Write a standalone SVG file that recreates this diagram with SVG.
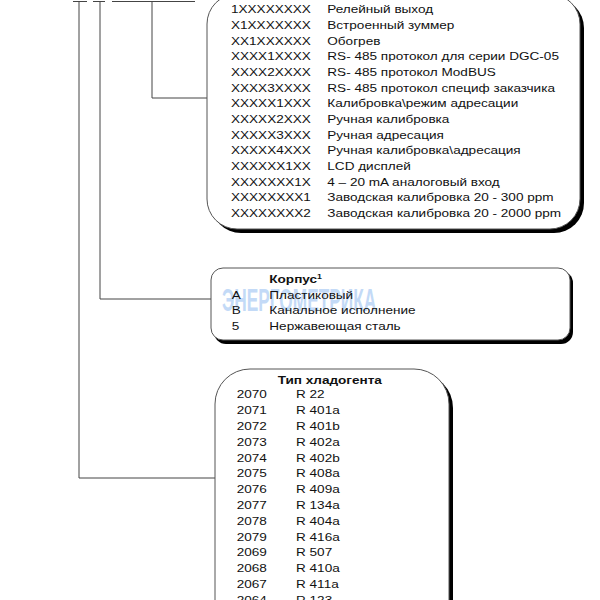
<svg xmlns="http://www.w3.org/2000/svg" width="600" height="600" viewBox="0 0 600 600">
<style>
.t{font-family:"Liberation Sans",Arial,sans-serif;font-size:11.6px;fill:#111}
.b{font-weight:bold}
.box{fill:#fff;stroke:#555;stroke-width:1}
.sh{fill:#000}
.ln{fill:none;stroke:#444;stroke-width:1}
.wm{font-family:"Liberation Sans",Arial,sans-serif;font-weight:bold;font-size:32px;fill:#9cc2f2;opacity:0.6}
</style>
<rect width="600" height="600" fill="#fff"/>
<g id="connectors">
<path class="ln" d="M73 1.5H87M93 1.5H105M112 1.5H195"/>
<path class="ln" d="M79 1.5V478H215"/>
<path class="ln" d="M100 1.5V299H211"/>
<path class="ln" d="M152 1.5V98H207"/>
</g>
<g id="options">
<rect class="sh" x="211" y="-2" width="373" height="235" rx="30"/>
<rect class="box" x="207" y="-6" width="373" height="235" rx="30"/>
<g transform="translate(231 0) scale(1.17 1)">
<text class="t"><tspan x="0" y="13.3">1XXXXXXXX</tspan><tspan x="0" y="29">X1XXXXXXX</tspan><tspan x="0" y="44.6">XX1XXXXXX</tspan><tspan x="0" y="60.3">XXXX1XXXX</tspan><tspan x="0" y="76">XXXX2XXXX</tspan><tspan x="0" y="91.6">XXXX3XXXX</tspan><tspan x="0" y="107.3">XXXXX1XXX</tspan><tspan x="0" y="123">XXXXX2XXX</tspan><tspan x="0" y="138.7">XXXXX3XXX</tspan><tspan x="0" y="154.3">XXXXX4XXX</tspan><tspan x="0" y="170">XXXXXX1XX</tspan><tspan x="0" y="185.7">XXXXXXX1X</tspan><tspan x="0" y="201.3">XXXXXXXX1</tspan><tspan x="0" y="217">XXXXXXXX2</tspan></text>
</g>
<g transform="translate(327.3 0) scale(1.17 1)">
<text class="t"><tspan x="0" y="13.3">Релейный выход</tspan><tspan x="0" y="29">Встроенный зуммер</tspan><tspan x="0" y="44.6">Обогрев</tspan><tspan x="0" y="60.3">RS- 485 протокол для серии DGC-05</tspan><tspan x="0" y="76">RS- 485 протокол ModBUS</tspan><tspan x="0" y="91.6">RS- 485 протокол специф заказчика</tspan><tspan x="0" y="107.3">Калибровка\режим адресации</tspan><tspan x="0" y="123">Ручная калибровка</tspan><tspan x="0" y="138.7">Ручная адресация</tspan><tspan x="0" y="154.3">Ручная калибровка\адресация</tspan><tspan x="0" y="170">LCD дисплей</tspan><tspan x="0" y="185.7">4 – 20 mA аналоговый вход</tspan><tspan x="0" y="201.3">Заводская калибровка 20 - 300 ppm</tspan><tspan x="0" y="217">Заводская калибровка 20 - 2000 ppm</tspan></text>
</g>
</g>
<g id="housing">
<rect class="sh" x="214" y="271" width="359" height="73" rx="12"/>
<rect class="box" x="211" y="268" width="359" height="72" rx="12"/>
<g transform="translate(222 311) scale(0.54 1)"><text class="wm" x="0" y="0">ЭНЕРГОМЕТРИКА</text></g>
<g transform="translate(269.3 0) scale(1.17 1)">
<text class="t b" x="0" y="283.5">Корпус<tspan font-size="7.5" dy="-4.5">1</tspan></text>
<text class="t"><tspan x="0" y="299">Пластиковый</tspan><tspan x="0" y="314.5">Канальное исполнение</tspan><tspan x="0" y="330">Нержавеющая сталь</tspan></text>
</g>
<g transform="translate(231.7 0) scale(1.17 1)">
<text class="t"><tspan x="0" y="299">A</tspan><tspan x="0" y="314.5">B</tspan><tspan x="0" y="330">5</tspan></text>
</g>
</g>
<g id="refrigerant">
<rect class="sh" x="219" y="373" width="234" height="300" rx="35"/>
<rect class="box" x="215" y="369" width="234" height="300" rx="35"/>
<g transform="translate(277.7 0) scale(1.17 1)">
<text class="t b" x="0" y="384">Тип хладогента</text>
</g>
<g transform="translate(236.7 0) scale(1.17 1)">
<text class="t"><tspan x="0" y="398.5">2070</tspan><tspan x="0" y="414.3">2071</tspan><tspan x="0" y="430.1">2072</tspan><tspan x="0" y="445.9">2073</tspan><tspan x="0" y="461.7">2074</tspan><tspan x="0" y="477.5">2075</tspan><tspan x="0" y="493.3">2076</tspan><tspan x="0" y="509.1">2077</tspan><tspan x="0" y="524.9">2078</tspan><tspan x="0" y="540.7">2079</tspan><tspan x="0" y="556.5">2069</tspan><tspan x="0" y="572.3">2068</tspan><tspan x="0" y="588.1">2067</tspan><tspan x="0" y="603.9">2064</tspan></text>
</g>
<g transform="translate(296 0) scale(1.17 1)">
<text class="t"><tspan x="0" y="398.5">R 22</tspan><tspan x="0" y="414.3">R 401a</tspan><tspan x="0" y="430.1">R 401b</tspan><tspan x="0" y="445.9">R 402a</tspan><tspan x="0" y="461.7">R 402b</tspan><tspan x="0" y="477.5">R 408a</tspan><tspan x="0" y="493.3">R 409a</tspan><tspan x="0" y="509.1">R 134a</tspan><tspan x="0" y="524.9">R 404a</tspan><tspan x="0" y="540.7">R 416a</tspan><tspan x="0" y="556.5">R 507</tspan><tspan x="0" y="572.3">R 410a</tspan><tspan x="0" y="588.1">R 411a</tspan><tspan x="0" y="603.9">R 123</tspan></text>
</g>
</g>
</svg>
